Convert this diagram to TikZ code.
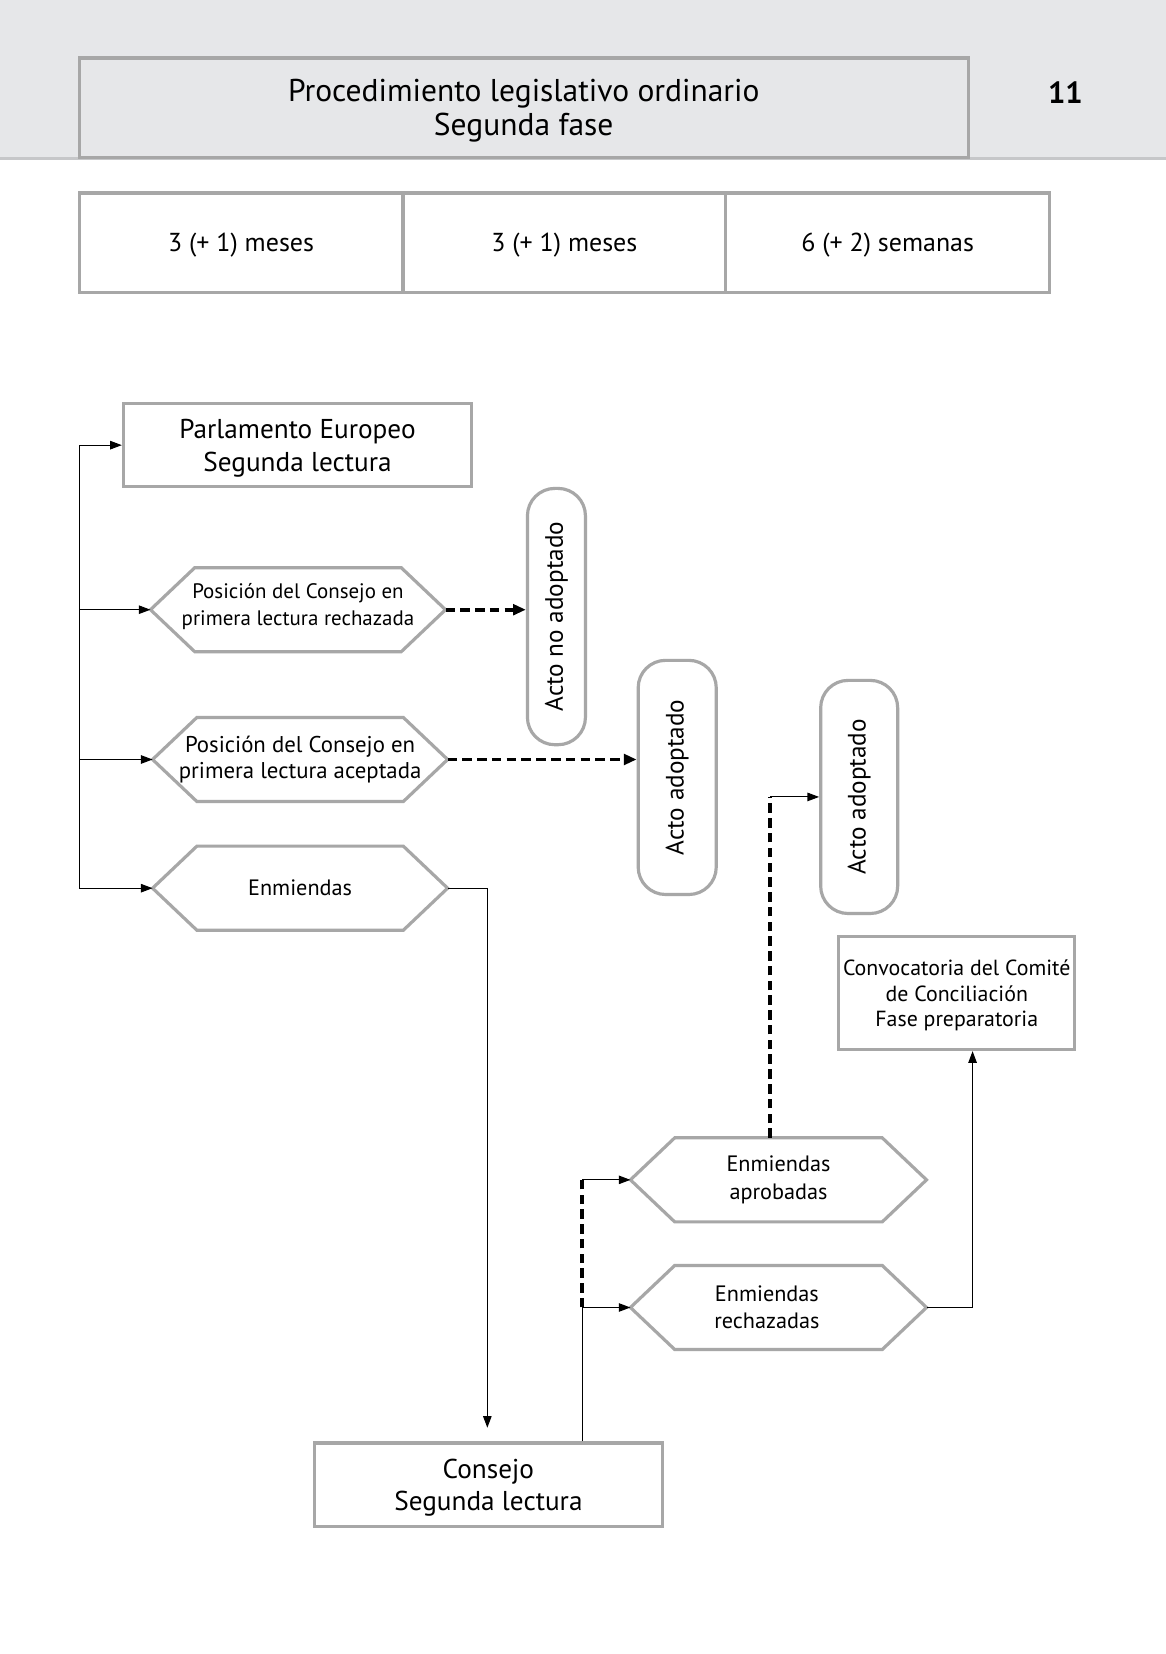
\documentclass[tikz,border=0pt]{standalone}
\usepackage{fontspec}
\setmainfont{PT Sans}
\usetikzlibrary{arrows.meta}
\definecolor{bandgray}{HTML}{E6E7E9}
\definecolor{boxgray}{HTML}{A7A7A7}
\definecolor{bandline}{HTML}{C6C7C9}
\tikzset{
  gbox/.style={draw=boxgray, line width=0.6mm, inner sep=0pt, align=center},
  hexbody/.style={inner sep=0pt, align=center},
  hexline/.style={draw=boxgray, line width=0.6mm, line join=miter},
  pill/.style={draw=boxgray, line width=0.6mm, rounded corners=5.2mm, inner sep=0pt},
  plainline/.style={line width=0.2mm},
  conn/.style={line width=0.2mm, -{Triangle[length=2.2mm,width=1.6mm]}},
  dline/.style={line width=0.75mm, dash pattern=on 1.8mm off 1mm},
  dconn/.style={dline, -{Triangle[length=2.4mm,width=2mm]}},
  ftitle/.style={font=\fontsize{17}{18.2}\selectfont},
  fbig/.style={font=\fontsize{14.7}{17.6}\selectfont},
  ftab/.style={font=\fontsize{14}{17}\selectfont},
  fhex/.style={font=\fontsize{12}{14.8}\selectfont},
  fpill/.style={font=\fontsize{13.6}{15}\selectfont},
}
\newcommand\hexa[7]{% name, cx, cy, w, h, style, text
  \node[hexbody, #6, minimum width=#4*0.2mm, minimum height=#5*0.2mm] (#1) at (#2,#3) {#7};
  \draw[hexline] (#1.west) -- ([xshift=8.4mm]#1.north west) -- ([xshift=-8.4mm]#1.north east)
    -- (#1.east) -- ([xshift=-8.4mm]#1.south east) -- ([xshift=8.4mm]#1.south west) -- cycle;
}
\begin{document}
\begin{tikzpicture}[x=0.2mm,y=-0.2mm]
\useasboundingbox (0,0) rectangle (1105,1568);
\fill[white] (0,0) rectangle (1105,1568);
% header band
\fill[bandgray] (0,0) rectangle (1105,150);
\draw[bandline, line width=0.6mm] (0,150) -- (1105,150);
\node[gbox, fill=bandgray, ftitle, text depth=-4.6pt, minimum width=843*0.2mm, minimum height=94*0.2mm] (title) at (496.5,102) {Procedimiento legislativo ordinario\\Segunda fase};
\node[font=\bfseries\fontsize{16.5}{20}\selectfont] (pnum) at (1010,88) {11};
% time table
\node[gbox, ftab, text depth=-1.8pt, minimum width=307*0.2mm, minimum height=94*0.2mm] (t1) at (228.5,230) {3 (+ 1) meses};
\node[gbox, ftab, text depth=-1.8pt, minimum width=306*0.2mm, minimum height=94*0.2mm] (t2) at (535,230) {3 (+ 1) meses};
\node[gbox, ftab, text depth=-1.8pt, minimum width=307*0.2mm, minimum height=94*0.2mm] (t3) at (841.5,230) {6 (+ 2) semanas};
% Parlamento
\node[gbox, fbig, text depth=-3.4pt, minimum width=330*0.2mm, minimum height=79*0.2mm] (parl) at (282,422) {Parlamento Europeo\\Segunda lectura};
% hexagons
\hexa{h1}{282.5}{578}{279}{79}{font=\fontsize{11.3}{14.8}\selectfont, text depth=5.9pt}{Posición del Consejo en\\primera lectura rechazada}
\hexa{h2}{284.5}{720}{279}{79}{font=\fontsize{12.3}{14.3}\selectfont}{Posición del Consejo en\\primera lectura aceptada}
\hexa{h3}{284.5}{842}{279}{79}{fhex}{Enmiendas}
\hexa{ha}{738}{1118.5}{280}{79}{fhex}{Enmiendas\\aprobadas}
\hexa{hr}{738}{1239.5}{280}{79}{fhex}{Enmiendas\hspace*{4.4mm}\\rechazadas\hspace*{4.4mm}}
% pills
\node[pill, fpill, rotate=90, minimum width=243*0.2mm, minimum height=55*0.2mm] (na) at (527.5,584.5) {Acto no adoptado};
\node[pill, fpill, rotate=90, minimum width=222*0.2mm, minimum height=74*0.2mm] (aa1) at (642,737) {Acto adoptado};
\node[pill, fpill, rotate=90, minimum width=221*0.2mm, minimum height=73*0.2mm] (aa2) at (814.5,755.5) {Acto adoptado};
% Convocatoria
\node[gbox, font=\fontsize{11.8}{13.7}\selectfont, text depth=-1.5pt, minimum width=224*0.2mm, minimum height=107*0.2mm] (conv) at (907,941.5) {Convocatoria del Comité\\de Conciliación\\Fase preparatoria};
% Consejo
\node[gbox, fbig, text depth=-3pt, minimum width=330*0.2mm, minimum height=79*0.2mm] (cons) at (463,1407.5) {Consejo\\Segunda lectura};
% left trunk
\coordinate (trunkTop) at (75,422);
\coordinate (trunkBot) at (75,842);
\draw[plainline] (trunkTop) -- (trunkBot);
\draw[conn] (trunkTop) -- (parl.west);
\draw[conn] (trunkTop |- h1.west) -- (h1.west);
\draw[conn] (trunkTop |- h2.west) -- (h2.west);
\draw[conn] (trunkBot) -- (h3.west);
% dashed arrows to pills
\draw[dconn] (h1.east) -- (h1.east -| na.north);
\draw[dconn] (h2.east) -- (h2.east -| aa1.north);
% enmiendas to consejo
\draw[conn, shorten >=2.6mm] (h3.east) -| ([xshift=-0.2mm]cons.north);
% consejo split
\coordinate (split) at (552,1239.5);
\coordinate (splitTop) at (552,1118.5);
\draw[plainline] (split |- cons.north) -- (split);
\draw[dline] (split) -- (splitTop);
\draw[conn] (splitTop) -- (ha.west);
\draw[conn] (split) -- (hr.west);
% aprobadas to acto adoptado
\coordinate (bend) at (730,755.5);
\draw[dline] (bend |- ha.north) -- (bend);
\draw[conn] (bend) -- (aa2.north);
% rechazadas to convocatoria
\draw[conn] (hr.east) -| ([xshift=3mm]conv.south);
\end{tikzpicture}
\end{document}
